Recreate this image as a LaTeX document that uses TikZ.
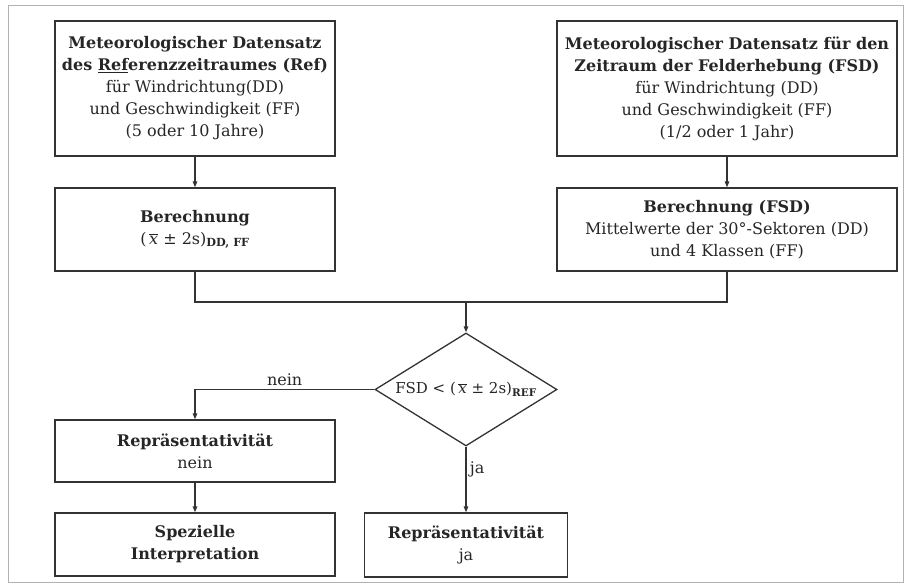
\documentclass[tikz,border=0pt]{standalone}
\usepackage{fontspec}
\setmainfont{DejaVu Serif}
\usetikzlibrary{positioning,arrows.meta,shapes.geometric}

\newcommand{\xquer}{$\overline{\mbox{\itshape x}}$}

\begin{document}
\begin{tikzpicture}[
  x=1pt, y=1pt,
  font=\fontsize{16}{22}\selectfont,
  datbox/.style={draw=black!80, line width=1.3pt, align=center, inner sep=0pt,
                 text=black!85},
  decide/.style={diamond, draw=black!80, line width=1.3pt, aspect=1.6,
                 minimum width=182pt, minimum height=113pt, inner sep=0pt,
                 text=black!85, font=\fontsize{15}{20}\selectfont},
  flow/.style={-{Triangle[length=6pt,width=4.5pt]}, line width=1.3pt, black!80},
  link/.style={line width=1.3pt, black!80},
  answer/.style={text=black!85, font=\fontsize{16}{20}\selectfont},
]
  \useasboundingbox (0,0) rectangle (910,587);
  \draw[black!30, line width=1pt] (8,5) rectangle (903,581);

  % Referenzzeitraum
  \node[datbox, minimum width=280pt, minimum height=135pt] (ref) at (195,498.5)
    {\textbf{Meteorologischer Datensatz}\\
     \textbf{des \underline{Ref}erenzzeitraumes (Ref)}\\
     für Windrichtung(DD)\\ und Geschwindigkeit (FF)\\ (5 oder 10 Jahre)};
  \node[datbox, minimum width=280pt, minimum height=83pt] (calcref) at (195,357.5)
    {\textbf{Berechnung}\\ (\,\xquer\ ± 2s)\textsubscript{\textbf{DD, FF}}};

  % Felderhebung
  \node[datbox, minimum width=340pt, minimum height=135pt] (fsd) at (727,498.5)
    {\textbf{Meteorologischer Datensatz für den}\\
     \textbf{Zeitraum der Felderhebung (FSD)}\\
     für Windrichtung (DD)\\ und Geschwindigkeit (FF)\\ (1/2 oder 1 Jahr)};
  \node[datbox, minimum width=340pt, minimum height=83pt] (calcfsd) at (727,357.5)
    {\textbf{Berechnung (FSD)}\\ Mittelwerte der 30°-Sektoren (DD)\\
     und 4 Klassen (FF)};

  % Vergleich
  \coordinate (mrg) at (466,285);
  \node[decide] (test) at (466,197.5)
    {FSD < (\,\xquer\ ± 2s)\textsubscript{\textbf{REF}}};

  % Ergebnisse
  \node[datbox, minimum width=280pt, minimum height=62pt] (repno) at (195,136)
    {\textbf{Repräsentativität}\\ nein};
  \node[datbox, minimum width=280pt, minimum height=63pt] (special) at (195,42.5)
    {\textbf{Spezielle}\\ \textbf{Interpretation}};
  \node[datbox, minimum width=203pt, minimum height=64pt] (repyes) at (466,42)
    {\textbf{Repräsentativität}\\ ja};

  \draw[flow] (ref) -- (calcref);
  \draw[flow] (fsd) -- (calcfsd);
  \draw[link] (calcref.south) |- (mrg) -| (calcfsd.south);
  \draw[flow] (mrg) -- (test.north);
  \draw[flow] (test.west) -| node[answer, pos=0.25, above] {nein} (repno.north);
  \draw[flow] (test.south) -- node[answer, pos=0.35, right] {ja} (repyes.north);
  \draw[flow] (repno) -- (special);
\end{tikzpicture}
\end{document}
